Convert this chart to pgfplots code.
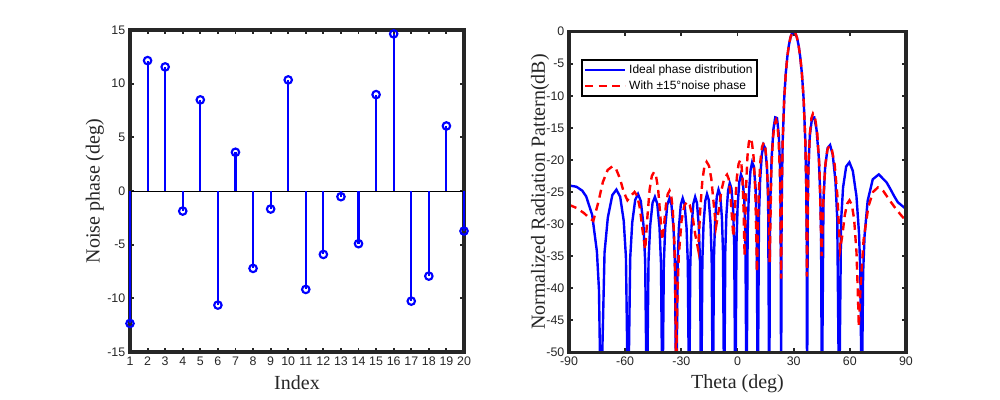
\documentclass[border=0pt]{standalone}
\usepackage{fontspec}
\setmainfont{Liberation Serif}
\newfontfamily\arial{Liberation Sans}
\usepackage{pgfplots}
\pgfplotsset{compat=1.18}
\definecolor{axgray}{RGB}{38,38,38}
\pgfplotsset{
  mystyle/.style={
    scale only axis, anchor=south west,
    axis line style={line width=1.7pt, draw=axgray},
    every tick/.style={line width=1.4pt, draw=axgray},
    major tick length=3.2pt,
    tick align=inside,
    tick label style={font=\arial\fontsize{9.3}{11}\selectfont, text=axgray},
    /pgf/number format/assume math mode=true,
    label style={font=\fontsize{15}{18}\selectfont, text=axgray},
  }
}
\begin{document}
\begin{tikzpicture}
\path[use as bounding box] (0,0) rectangle (750pt,300pt);
% ---------------- left: noise phase stems ----------------
\begin{axis}[mystyle, name=L, at={(97.5pt,36pt)}, width=250.5pt, height=241.5pt,
  xmin=1, xmax=20, ymin=-15, ymax=15,
  xtick={1,...,20}, ytick={-15,-10,...,15},
  xlabel={Index}, ylabel={Noise phase (deg)},
  xlabel style={at={(axis description cs:0.5,-0.096)}, anchor=center},
  ylabel style={at={(axis description cs:-0.105,0.5)}, anchor=center},
  clip=false]
\draw[line width=2.4pt, axgray, line join=miter] (rel axis cs:0,0) rectangle (rel axis cs:1,1);
\addplot[black, line width=0.6pt, forget plot] coordinates {(1,0) (20,0)};
\addplot[ycomb, blue, line width=1.6pt, mark=o, mark size=2.8pt, mark options={line width=1.6pt}]
coordinates {
(1,-12.34) (2,12.15) (3,11.56) (4,-1.87) (5,8.49) (6,-10.63) (7,3.61) (8,-7.21) (9,-1.68) (10,10.35)
(11,-9.17) (12,-5.91) (13,-0.53) (14,-4.91) (15,8.98) (16,14.64) (17,-10.26) (18,-7.93) (19,6.06) (20,-3.73)
};
\end{axis}
% ---------------- right: radiation pattern ----------------
\begin{axis}[mystyle, name=R, at={(426.75pt,35.8pt)}, width=252.75pt, height=240.5pt,
  xmin=-90, xmax=90, ymin=-50, ymax=0,
  xtick={-90,-60,...,90}, ytick={-50,-45,...,0},
  xlabel={Theta (deg)}, ylabel={Normalized Radiation Pattern(dB)},
  xlabel style={at={(axis description cs:0.5,-0.097)}, anchor=center},
  ylabel style={at={(axis description cs:-0.086,0.5)}, anchor=center},
  legend style={at={(0.036,0.914)}, anchor=north west, draw=black, line width=1.5pt,
    font=\arial\fontsize{9}{10}\selectfont, inner sep=1.5pt, row sep=0pt,
    cells={anchor=west}},
  legend image code/.code={\draw[#1] (0pt,0pt) -- (30pt,0pt);}]
\addplot[blue, line width=1.8pt] coordinates {
(-90,-23.99) (-86.03,-24.19) (-82.93,-24.80) (-80.82,-25.70) (-77.63,-28.58) (-75.10,-34.27) (-73.99,-40.24) (-72.98,-60)
(-71.02,-34.47) (-69.26,-28.98) (-66.87,-25.50) (-64.69,-24.64) (-62.67,-25.75) (-60.78,-29.49) (-59.59,-35.14) (-58.43,-60)
(-57.31,-35.28) (-56.22,-29.76) (-54.64,-26.24) (-53.13,-25.33) (-51.66,-26.41) (-50.25,-30.10) (-49.32,-35.73) (-48.42,-60)
(-47.53,-35.82) (-46.65,-30.28) (-45.37,-26.72) (-44.11,-25.78) (-42.87,-26.82) (-41.67,-30.48) (-40.87,-36.08) (-40.09,-60)
(-39.35,-36.13) (-38.61,-30.56) (-37.50,-26.97) (-36.30,-25.99) (-35.27,-27.00) (-34.16,-30.63) (-33.42,-36.22) (-32.68,-60)
(-32.00,-36.21) (-31.31,-30.63) (-30.29,-27.00) (-29.27,-25.99) (-28.24,-26.97) (-27.22,-30.56) (-26.53,-36.13) (-25.85,-60)
(-25.20,-36.08) (-24.56,-30.48) (-23.59,-26.82) (-22.62,-25.78) (-21.65,-26.72) (-20.68,-30.28) (-20.04,-35.82) (-19.39,-60)
(-18.77,-35.73) (-18.15,-30.10) (-17.22,-26.41) (-16.29,-25.33) (-15.35,-26.24) (-14.42,-29.76) (-13.80,-35.28) (-13.18,-60)
(-12.57,-35.14) (-11.97,-29.49) (-11.06,-25.75) (-10.15,-24.64) (-9.24,-25.50) (-8.33,-28.98) (-7.73,-34.47) (-7.12,-60)
(-6.52,-34.27) (-5.93,-28.58) (-5.03,-24.80) (-4.14,-23.64) (-3.24,-24.45) (-2.34,-27.88) (-1.75,-33.34) (-1.15,-60)
(-0.55,-33.06) (0.04,-27.33) (0.94,-23.49) (1.84,-22.27) (2.73,-23.01) (3.63,-26.37) (4.22,-31.78) (4.82,-60)
(5.42,-31.40) (6.02,-25.62) (6.93,-21.69) (7.83,-20.38) (8.73,-21.01) (9.64,-24.27) (10.24,-29.60) (10.84,-60)
(11.45,-29.09) (12.07,-23.23) (12.99,-19.16) (13.91,-17.68) (14.83,-18.17) (15.75,-21.24) (16.37,-26.43) (16.98,-60)
(17.30,-31.72) (17.62,-25.59) (18.25,-19.55) (19.20,-15.20) (20.16,-13.38) (21.11,-13.48) (22.06,-16.10) (22.70,-20.93) (23.01,-26.44) (23.33,-60)
(23.46,-33.77) (23.72,-23.92) (24.14,-17.10) (24.96,-10.43) (25.78,-6.53) (26.62,-3.91) (27.45,-2.11) (28.30,-0.91) (29.14,-0.22) (30,0)
(30.86,-0.22) (31.74,-0.91) (32.62,-2.11) (33.50,-3.91) (34.40,-6.53) (35.31,-10.43) (36.23,-17.10) (36.71,-23.92) (37.00,-33.77) (37.16,-60)
(37.53,-26.44) (37.91,-20.93) (38.67,-16.10) (39.82,-13.48) (41.00,-13.38) (42.19,-15.20) (43.41,-19.55) (44.23,-25.59) (44.65,-31.72) (45.07,-60)
(45.92,-26.43) (46.79,-21.24) (48.11,-18.17) (49.46,-17.68) (50.86,-19.16) (52.30,-23.23) (53.28,-29.09) (54.29,-60)
(55.32,-29.62) (56.39,-24.30) (58.04,-21.04) (59.77,-20.38) (61.59,-21.71) (63.53,-25.64) (64.90,-31.41) (65.61,-37.42) (66.35,-60)
(67.10,-37.61) (67.88,-31.79) (69.52,-26.39) (72.25,-23.03) (75.47,-22.27) (79.61,-23.50) (81.42,-24.42) (83.72,-25.67) (85.65,-26.61) (90,-27.66)
};
\addlegendentry{Ideal phase distribution}
\addplot[red, line width=1.8pt, dash pattern=on 6pt off 4pt] coordinates {
(-90,-27.0) (-86,-27.5) (-82,-28.3) (-79,-29.1) (-77.0,-29.5) (-74.45,-26.73) (-71.9,-23.44) (-69.35,-21.58) (-66.8,-21.0)
(-64.8,-21.47) (-62.8,-22.89) (-60.8,-25.00) (-58.8,-26.3) (-56.9,-25.60) (-55.0,-25.0) (-53.58,-25.60) (-52.15,-27.50) (-50.73,-30.95) (-49.3,-34.0)
(-48.13,-28.91) (-46.95,-24.65) (-45.78,-22.54) (-44.6,-21.9) (-43.5,-22.52) (-42.4,-24.55) (-41.3,-28.46) (-40.2,-32.5)
(-39.23,-30.16) (-38.25,-27.13) (-37.28,-25.36) (-36.3,-24.8) (-35.43,-25.49) (-34.55,-27.81) (-33.68,-33.14) (-33.22,-39.35) (-32.98,-46.9) (-32.8,-60)
(-32.51,-48.6) (-32.10,-41.05) (-31.35,-34.84) (-29.9,-29.51) (-28.45,-27.19) (-27.0,-26.5) (-25.5,-27.06) (-24.0,-28.80) (-22.5,-31.75) (-21.0,-34.0)
(-19.88,-27.68) (-18.75,-23.13) (-17.63,-20.96) (-16.5,-20.3) (-15.25,-20.92) (-14.0,-22.91) (-12.75,-26.72) (-11.5,-30.5)
(-10.03,-27.90) (-8.55,-24.70) (-7.08,-22.88) (-5.6,-22.3) (-4.75,-22.91) (-3.9,-24.87) (-3.05,-28.54) (-2.2,-32.0)
(-1.28,-26.98) (-0.35,-22.74) (0.58,-20.64) (1.5,-20.0) (2.08,-20.66) (2.65,-22.88) (3.23,-27.61) (3.8,-35.0)
(4.55,-24.59) (5.3,-19.55) (6.05,-17.28) (6.8,-16.6) (7.7,-17.28) (8.6,-19.57) (9.5,-24.74) (10.4,-37.5)
(11.3,-25.41) (12.2,-20.27) (13.1,-17.98) (14.0,-17.3) (14.8,-17.98) (15.6,-20.25) (16.4,-25.32) (17.2,-36.0)
(18.05,-21.99) (18.9,-16.78) (19.75,-14.48) (20.6,-13.8) (21.28,-14.48) (21.95,-16.80) (22.63,-22.06) (23.3,-38.5)
(23.46,-33.0) (23.72,-23.92) (24.14,-17.10) (24.96,-10.43) (25.78,-6.53) (26.62,-3.91) (27.45,-2.11) (28.30,-0.91) (29.14,-0.22) (30,0)
(30.86,-0.22) (31.74,-0.91) (32.62,-2.11) (33.50,-3.91) (34.40,-6.53) (35.31,-10.43) (36.23,-17.10) (36.71,-23.92) (36.95,-33.0) (37.1,-38.2)
(37.9,-21.07) (38.7,-15.80) (39.5,-13.49) (40.3,-12.8) (41.45,-13.48) (42.6,-15.78) (43.75,-21.0) (44.9,-35.0)
(45.93,-25.69) (46.95,-20.73) (47.98,-18.47) (49.0,-17.8) (50.45,-18.47) (51.9,-20.71) (53.35,-25.58) (54.8,-34.0)
(56.05,-31.66) (57.3,-28.63) (58.55,-26.86) (59.8,-26.3) (61.05,-26.98) (62.3,-29.26) (63.55,-34.38) (64.3,-40.87) (64.8,-46.0)
(65.82,-39.38) (67.35,-32.48) (69.9,-27.28) (72.45,-24.98) (75.0,-24.3) (78,-24.9) (81,-26.2) (84,-27.4) (87,-28.5) (90,-29.5)
};
\addlegendentry{With ±15°noise phase}
\end{axis}
\draw[line width=2.4pt, axgray, line join=miter] (R.south west) rectangle (R.north east);
\end{tikzpicture}
\end{document}
